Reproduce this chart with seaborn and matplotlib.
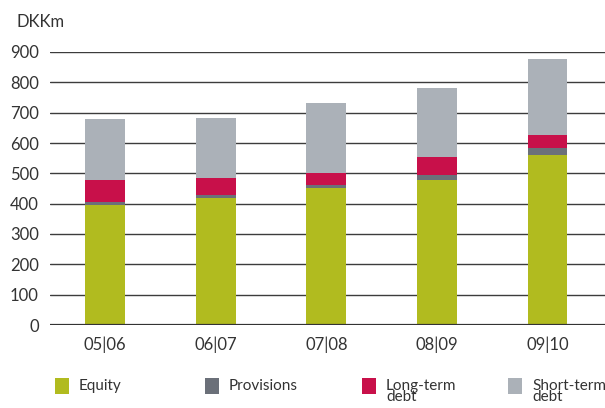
import matplotlib
matplotlib.use("Agg")
import matplotlib.pyplot as plt
from matplotlib.patches import Rectangle
import numpy as np
import pandas as pd
import seaborn as sns

# values (DKKm)
years = ["05|06", "06|07", "07|08", "08|09", "09|10"]
equity = [394, 420, 453, 479, 561]
provisions = [10, 10, 10, 17, 23]
long_term = [75, 56, 39, 59, 42]
short_term = [200, 197, 230, 226, 250]

names = ["Equity", "Provisions", "Long-term\ndebt", "Short-term\ndebt"]
colors = ["#b1bb1f", "#6b7079", "#c8104a", "#abb1b8"]

sns.set_theme(style="white")
plt.rcParams["font.family"] = ["Lato", "DejaVu Sans"]
plt.rcParams["text.color"] = "#333333"

df = pd.DataFrame({"year": years, "Equity": equity, "Provisions": provisions,
                   "Long": long_term, "Short": short_term})
# cumulative totals so the bars can be drawn on top of each other
df["c1"] = df["Equity"]
df["c2"] = df["c1"] + df["Provisions"]
df["c3"] = df["c2"] + df["Long"]
df["c4"] = df["c3"] + df["Short"]

fig = plt.figure(figsize=(6.05, 4.08), dpi=100)
ax = fig.add_axes([50 / 605, 83 / 408, 555 / 605, 273 / 408])

for col, c in zip(["c4", "c3", "c2", "c1"], colors[::-1]):
    sns.barplot(data=df, x="year", y=col, color=c, width=0.36,
                saturation=1, ax=ax, linewidth=0, zorder=3)

ax.set_xlim(-0.5, 4.52)
ax.set_ylim(0, 900)
ax.set_yticks(range(0, 901, 100))
ax.yaxis.grid(True, color="#3c3c3c", linewidth=1.0, zorder=0)
ax.axhline(0, color="#333333", linewidth=1.6, zorder=4)
for s in ax.spines.values():
    s.set_visible(False)
ax.set_xlabel("")
ax.set_ylabel("")
ax.tick_params(axis="y", length=0, pad=8, labelsize=12, labelcolor="#333333")
ax.tick_params(axis="x", length=0, pad=8, labelsize=12, labelcolor="#333333")

fig.text(17 / 605, 1 - 22 / 408, "DKKm", fontsize=12, va="center", ha="left")

# legend row
leg_x = [55, 205, 362, 508]
for x, n, c in zip(leg_x, names, colors):
    fig.patches.append(Rectangle((x / 605, 1 - 394 / 408), 14 / 605, 16 / 408,
                                 transform=fig.transFigure, color=c, lw=0))
    fig.text((x + 24) / 605, 1 - 379 / 408, n, fontsize=11, va="top",
             ha="left", linespacing=0.72)

fig.savefig("out.png", dpi=100)
